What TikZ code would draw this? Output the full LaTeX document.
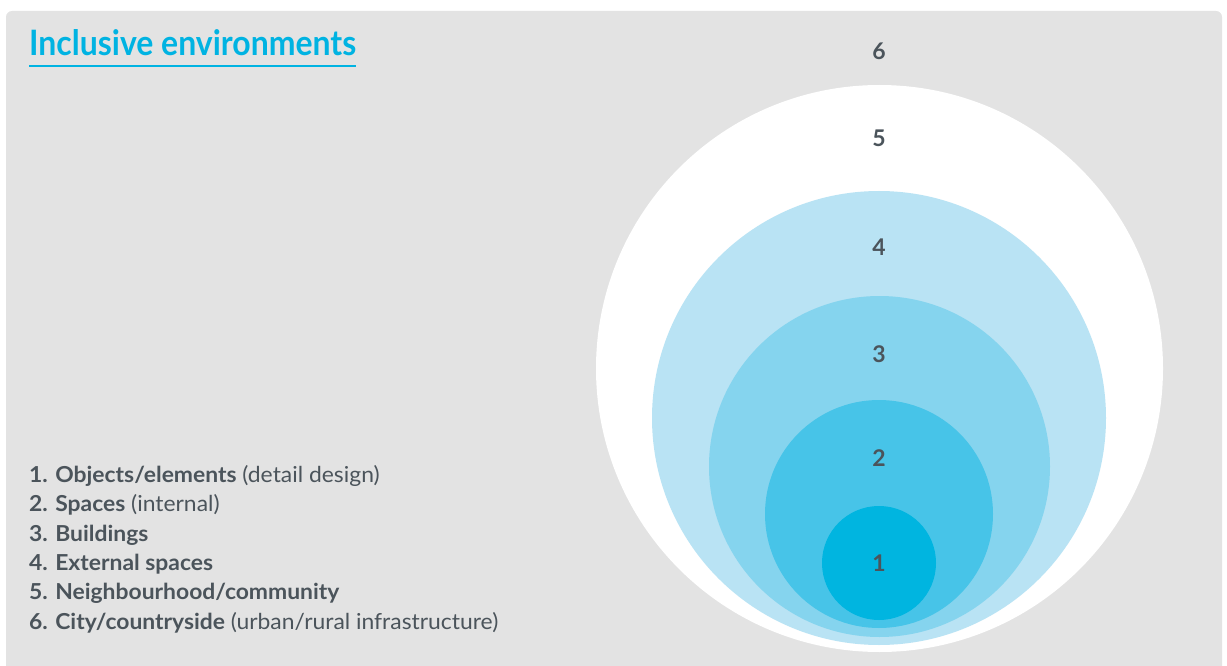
\documentclass[tikz,border=0pt]{standalone}
\usepackage{fontspec}
\setmainfont{Lato}
\newfontfamily\titlefont[FakeStretch=0.913]{Lato}
\newfontfamily\legendfont[FakeStretch=1.04]{Lato}
\definecolor{panelgray}{HTML}{E3E3E3}
\definecolor{titleblue}{HTML}{00B3E2}
\definecolor{textgray}{HTML}{4B545B}
\definecolor{ringone}{HTML}{00B5E0}
\definecolor{ringtwo}{HTML}{47C4E8}
\definecolor{ringthree}{HTML}{85D4EE}
\definecolor{ringfour}{HTML}{B9E3F4}
\tikzset{
    ringnum/.style={text=textgray, font=\fontsize{23}{27}\selectfont\bfseries, inner sep=0},
    legenditem/.style={anchor=base west, text=textgray, font=\legendfont\fontsize{22}{26}\selectfont, inner sep=0}
}
\begin{document}
\begin{tikzpicture}[x=1pt, y=-1pt]
                \useasboundingbox (0, 0) rectangle (1227, 666);
                \fill [panelgray, rounded corners=6] (6, 11) rectangle (1222, 700);
                \node [anchor=base west, text=titleblue, inner sep=0,
                    font=\titlefont\fontsize{35}{40}\selectfont\bfseries] (title) at (29, 56) {Inclusive environments};
                \draw [titleblue, line width=1.8] ([yshift=-10pt]title.base west) --
                    ([yshift=-10pt]title.base east);
                \fill [white] (879.5, 368.5) circle (283.5);
                \fill [ringfour] (879, 418) circle (227);
                \fill [ringthree] (879.5, 466.5) circle (170.5);
                \fill [ringtwo] (879, 514) circle (114);
                \fill [ringone] (879, 563) circle (57);
                \node [ringnum] (num6) at (879, 51) {6};
                \node [ringnum] (num5) at (879, 138) {5};
                \node [ringnum] (num4) at (879, 247) {4};
                \node [ringnum] (num3) at (879, 354) {3};
                \node [ringnum] (num2) at (879, 458) {2};
                \node [ringnum] (num1) at (879, 563) {1};
                \node [legenditem] (item1) at (29, 482.5) {\textbf{1. Objects/elements} (detail design)};
                \node [legenditem] (item2) at (29, 511.8) {\textbf{2. Spaces} (internal)};
                \node [legenditem] (item3) at (29, 541) {\textbf{3. Buildings}};
                \node [legenditem] (item4) at (29, 570.3) {\textbf{4. External spaces}};
                \node [legenditem] (item5) at (29, 599.6) {\textbf{5. Neighbourhood/community}};
                \node [legenditem] (item6) at (29, 629) {\textbf{6. City/countryside} (urban/rural infrastructure)};
            \end{tikzpicture}
\end{document}
